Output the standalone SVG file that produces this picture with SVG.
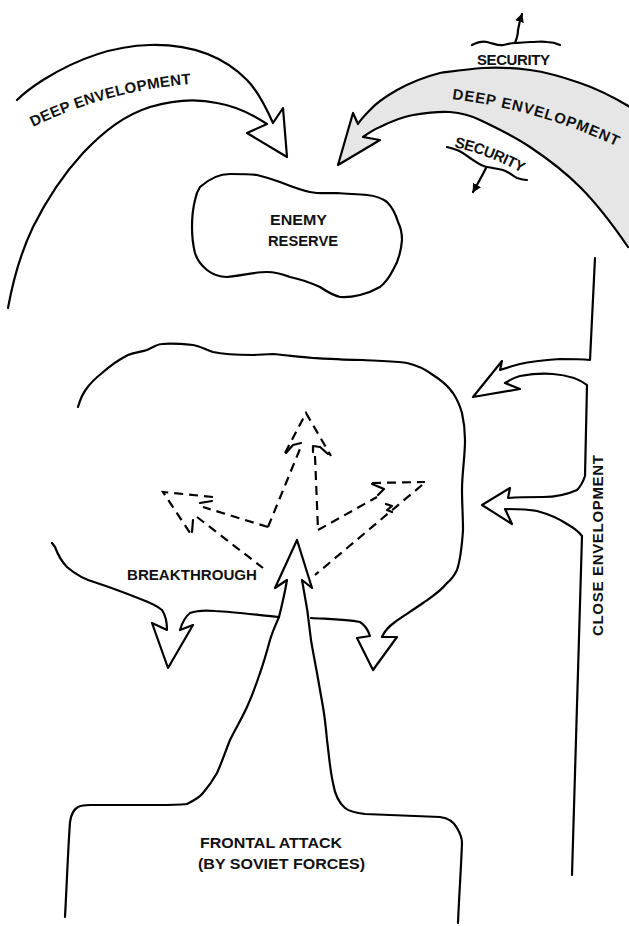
<svg xmlns="http://www.w3.org/2000/svg" width="629" height="926" viewBox="0 0 629 926">
<style>
.ln{fill:none;stroke:#000;stroke-width:2.2;stroke-linejoin:round;stroke-linecap:round}
.ds{fill:none;stroke:#000;stroke-width:2.2;stroke-dasharray:9 6;stroke-linecap:butt}
.t{font-family:"Liberation Sans",Arial,sans-serif;font-weight:bold;font-size:15px;fill:#111}
</style>
<defs>
<path id="tpL" d="M33,127 Q108,90 200,83"/>
<path id="tpR" d="M452,99 Q540,110 618,147"/>
<path id="tpS" d="M454,147 Q490,155 526,175"/>
<marker id="ah" viewBox="0 0 10 10" refX="9" refY="5" markerWidth="9" markerHeight="9" orient="auto" markerUnits="userSpaceOnUse"><path d="M0,0 L10,5 L0,10 Z" fill="#000"/></marker>
</defs>
<rect width="629" height="926" fill="#fff"/>

<g id="connectors">
  <g id="deep-envelopment-left">
    <path class="ln" d="M8,308 C14,275 22,250 33,227 C45,203 60,178 83,153 C105,130 125,115 150,107 C170,101 195,98 217,103 C235,106 252,114 267,124 L247,133 L287,157 L283,108 L273,123 C265,105 257,90 247,80 C222,55 190,44 150,45 C110,46 75,60 43,80 C32,87 23,94 17,100"/>
    <text class="t"><textPath href="#tpL" textLength="165" lengthAdjust="spacing">DEEP ENVELOPMENT</textPath></text>
  </g>
  <g id="deep-envelopment-right">
    <path fill="#e6e6e6" stroke="none" d="M630,107 C610,95 595,88 580,83 C560,76 545,72 530,70 C515,68 500,67 483,68 C468,69 455,71 440,73 C420,78 408,84 397,90 C385,97 376,103 370,110 C365,115 361,119 358,124 L353,113 L338,165 L380,140 L363,137 C370,132 375,129 380,127 C392,121 402,117 413,115 C425,113 438,111 450,112 C462,113 472,116 480,120 C497,128 515,137 530,147 C548,159 565,172 580,187 C598,205 613,225 629,247 Z"/>
    <path class="ln" d="M630,107 C610,95 595,88 580,83 C560,76 545,72 530,70 C515,68 500,67 483,68 C468,69 455,71 440,73 C420,78 408,84 397,90 C385,97 376,103 370,110 C365,115 361,119 358,124 L353,113 L338,165 L380,140 L363,137 C370,132 375,129 380,127 C392,121 402,117 413,115 C425,113 438,111 450,112 C462,113 472,116 480,120 C497,128 515,137 530,147 C548,159 565,172 580,187 C598,205 613,225 628,247"/>
    <text class="t"><textPath href="#tpR" textLength="172" lengthAdjust="spacing">DEEP ENVELOPMENT</textPath></text>
  </g>
  <g id="security-top">
    <path class="ln" d="M472,45 C478,42 482,41 487,42 C495,44 499,46 503,45 C508,44 511,43 515,43 C520,43 525,42 530,42 C538,42 542,41 547,42 C552,42 556,43 560,45"/>
    <path class="ln" d="M515,43 C517,38 518,34 518,30 C519,24 520,20 522,14" marker-end="url(#ah)"/>
    <text class="t" x="477" y="65" font-size="14" textLength="73" lengthAdjust="spacing">SECURITY</text>
  </g>
  <g id="security-bottom">
    <path class="ln" d="M447,147 C451,148 454,149 457,150 C462,152 466,155 470,158 C476,162 481,166 487,167 C493,168 498,169 503,170 C509,172 513,176 517,178 C520,179 524,180 527,180"/>
    <path class="ln" d="M486,168 C482,176 477,185 473,192" marker-end="url(#ah)"/>
    <text class="t" font-size="14"><textPath href="#tpS" textLength="73" lengthAdjust="spacing">SECURITY</textPath></text>
  </g>
  <g id="close-envelopment">
    <path class="ln" d="M595,258 L590,360 C580,359 570,359 560,359 C545,360 532,361 520,364 C512,366 506,368 500,370 L502,361 L473,397 L520,389 L505,383 C510,380 515,377 520,376 C531,374 542,373 553,374 C565,375 578,378 587,385 L585,476 C583,482 580,487 577,490 C566,495 555,497 543,497 C532,497 520,497 508,498 L510,488 L482,505 L512,524 L505,509 C515,509 526,509 537,511 C548,514 558,518 567,524 C574,528 579,532 582,536 L572,875"/>
    <text class="t" font-size="16" transform="translate(603,636) rotate(-90)" textLength="181" lengthAdjust="spacing">CLOSE ENVELOPMENT</text>
  </g>
  <g id="breakthrough-arrows">
    <path class="ds" d="M268,527 L302,444"/>
    <path class="ln" d="M286,453 L293,445 L301,443"/>
    <path class="ds" d="M285,453 L306,413 L331,456"/>
    <path class="ln" d="M313,452 L313,446 L320,447 L328,454"/>
    <path class="ds" d="M315,456 L318,530"/>
    <path class="ds" d="M268,527 L203,507"/>
    <path class="ln" d="M200,503 L212,501"/>
    <path class="ds" d="M213,497 L163,492 L190,533"/>
    <path class="ln" d="M192,532 L193,520"/>
    <path class="ds" d="M197,517 L263,568"/>
    <path class="ds" d="M318,530 L377,497"/>
    <path class="ln" d="M372,484 L384,489 L378,495"/>
    <path class="ds" d="M372,483 L425,482"/>
    <path class="ds" d="M422,485 L315,575"/>
    <path class="ln" d="M386,504 L392,506 L387,510 L392,512"/>
  </g>
</g>

<g id="enemy-reserve">
  <path class="ln" d="M200,187 C210,178 220,174 230,174 C240,174 250,174 257,175 C265,177 272,179 280,182 C290,186 300,190 310,192 C320,194 328,193 337,193 C347,194 357,194 367,195 C377,196 383,199 387,202 C393,208 396,215 398,222 C401,228 402,234 402,240 C401,252 398,262 393,270 C389,278 385,283 380,287 C368,294 352,298 340,297 C332,295 326,291 320,287 C311,283 300,279 290,277 C282,274 274,272 267,272 C254,272 240,276 227,277 C219,277 212,274 207,270 C201,265 197,260 195,253 C193,245 192,236 192,227 C192,218 193,208 195,200 C196,195 198,190 200,187 Z"/>
  <text class="t" x="270" y="225" font-size="16" textLength="57" lengthAdjust="spacingAndGlyphs">ENEMY</text>
  <text class="t" x="268" y="246" font-size="16" textLength="70" lengthAdjust="spacingAndGlyphs">RESERVE</text>
</g>

<g id="breakthrough-area">
  <path class="ln" d="M78,407 C80,400 83,393 87,388 C92,381 97,377 102,373 C110,366 118,360 128,355 C135,352 141,352 147,350 C152,348 157,344 162,344 C172,343 183,344 193,345 C200,346 206,350 213,352 C226,355 240,355 253,355 C260,355 266,354 273,354 C285,355 300,357 313,358 C330,359 346,360 363,360 C378,361 393,361 407,363 C416,365 425,369 433,375 C441,380 448,386 453,393 C457,399 460,406 462,413 C464,422 465,431 465,440 C465,457 462,473 462,490 C462,503 463,517 463,530 C462,545 461,558 457,570 C454,576 451,580 447,583 C440,592 430,598 423,603 C410,612 400,618 395,622 C388,627 384,632 382,637 L397,637 L373,670 L357,638 L370,636 C368,630 365,625 360,622 C345,619 325,619 311,618"/>
  <path class="ln" d="M52,543 L55,547 C58,555 62,562 67,567 C76,575 86,580 97,583 C112,588 128,594 143,600 C151,603 157,606 162,610 C166,616 167,623 167,630 L152,623 L168,668 L193,625 L180,630 C182,623 185,617 190,613 C198,610 205,610 215,611 C235,612 258,615 279,617"/>
  <text class="t" x="127" y="580" font-size="15" textLength="130" lengthAdjust="spacingAndGlyphs">BREAKTHROUGH</text>
</g>

<g id="frontal-attack">
  <path class="ln" d="M65,917 C67,880 68,850 70,822 C71,814 73,810 78,807 C82,805 86,805 90,805 L157,805 C167,805 177,805 187,804 C195,800 200,797 203,793 C209,786 213,780 217,773 C222,762 226,750 230,740 C236,728 242,718 247,707 C252,696 256,685 260,673 C264,662 267,651 270,640 C273,630 277,622 279,617 C282,605 285,592 287,580 L275,588 L297,540 L312,588 L302,580 C306,600 309,620 311,640 C313,652 315,662 317,673 C319,684 321,696 323,707 C325,718 326,729 327,740 C329,755 330,770 333,783 C335,795 339,803 345,808 C350,812 356,813 365,814 C390,815 415,816 440,817 C448,818 454,822 457,828 C460,833 462,838 462,843 C461,870 459,897 458,923"/>
  <text class="t" x="200" y="848" font-size="16" textLength="142" lengthAdjust="spacingAndGlyphs">FRONTAL ATTACK</text>
  <text class="t" x="198" y="869" font-size="16" textLength="167" lengthAdjust="spacingAndGlyphs">(BY SOVIET FORCES)</text>
</g>
</svg>
